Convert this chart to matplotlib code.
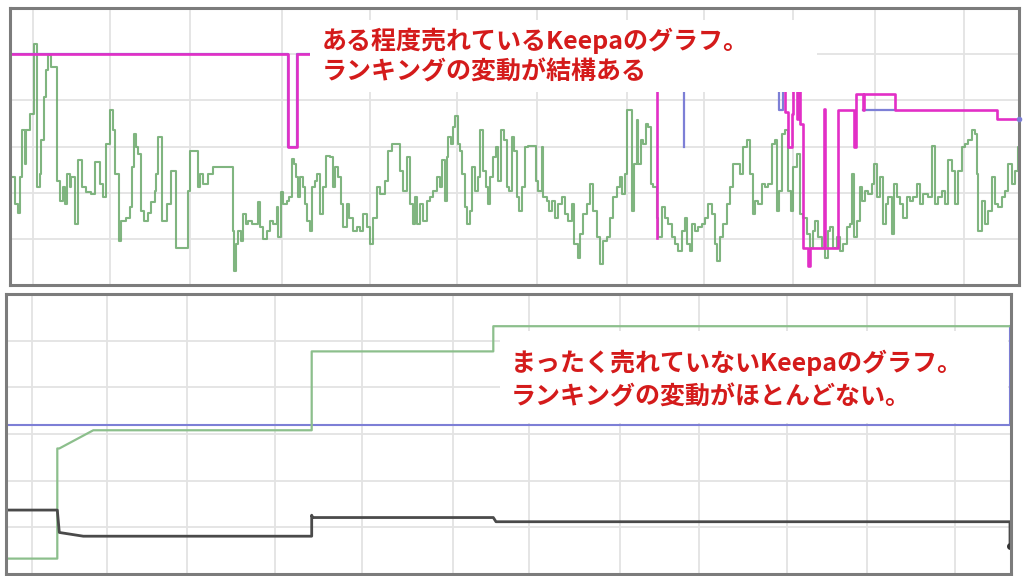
import numpy as np
import matplotlib.pyplot as plt
from matplotlib.patches import Rectangle

plt.rcParams['font.family'] = ['Noto Sans CJK JP', 'DejaVu Sans']

nan = np.nan

# ---- upper chart: item that sells reasonably well ----
# sales rank (green), time in steps, rank in grid units (top = best)
rank_t = [0, 4.7, 8, 9.7, 12, 14.7, 16.3, 19.7, 24, 27.3, 29.7, 31.3, 34, 36.3, 38, 41.3, 47.3, 49.7, 53, 54.7,
          57.3, 59.7, 61.3, 64.7, 68, 72, 76.3, 81.3, 85.3, 89.7, 93, 96.3, 99.7, 103, 105.3, 108.7, 111.3, 116.3,
          119.7, 122, 124, 126.3, 128, 131.3, 134, 138, 141.3, 144.7, 146.3, 148, 152, 157.3, 161.3, 166.3, 178,
          179.7, 188, 189.7, 193, 198,
          203.3, 222.7, 224, 226, 228.3, 230.7, 233.3, 236, 238.3, 241.7, 248.3, 250, 252.7, 256.7, 260, 263.3,
          266.7, 268.3, 270.7, 273.3, 276.7, 279.3, 281.7, 284, 286, 288.3, 290, 292.7, 295, 296.7, 300, 301.7,
          305, 307.3, 310, 313.3, 316, 320, 322.7, 325, 328.3, 330.7, 333.3, 336.7, 339.3, 343.3, 346.7, 350,
          353.3, 356.7, 360, 363.3, 366.7, 370, 375, 378.3, 381.7, 390, 393.3, 396.7, 400, 403.3,
          405, 406.7, 410, 413.3, 416.7, 420, 423.3, 426.7, 430, 431.7, 435, 436.7, 438.3, 441, 443.3, 445, 447.7,
          450, 451.7, 455, 456.7, 460, 462.3, 465, 468.3, 470, 473.3, 475.7, 478.3, 480, 483.3, 485.7, 488.3, 491,
          494.3, 496.7, 499, 501.7, 504.3, 506.7, 509, 511.7, 515, 518.3, 525.7, 528.3, 531.7, 533.3, 536.7, 539,
          541.7, 545, 548.3, 551.7, 555, 558.3, 561.7, 564.3, 567.7, 570, 573.3, 576.7, 580, 583.3, 586.7, 590,
          593.3, 596.7, 600, 603.3, 606.7,
          610, 611.7, 615, 617.3, 621.7, 624, 626.7, 628.3, 630.7, 633.3, 636, 638.3, 640.7, 643.3, 646.7, 648.3,
          651.7, 655, 658.3, 661.7, 665, 668.3, 671.7, 675, 676.7, 680, 681.7, 685, 688.3, 691.7, 695, 698.3,
          701.7, 705, 706.7, 710, 713.3, 716.7, 720, 723.3, 726.7, 730, 733.3, 736.7, 740, 742.7, 745, 748.3,
          751.7, 755, 758.3, 761.7, 765, 766.7, 769.3, 771.7, 775, 778.3, 780.7, 783.3, 786.7, 790, 793.3, 796.7,
          800, 803.3,
          805, 808.3, 811.7, 815, 818.3, 820, 823.3, 826.7, 830, 833.3, 836.7, 840, 842.3, 844.3, 846.7, 850,
          851.7, 855, 858.3, 861.7, 864.3, 866.7, 870, 873.3, 875.7, 878.3, 881.7, 884.3, 886.7, 890, 893.3,
          896.7, 900, 903.3, 906.7, 910, 913.3, 918.3, 921.7, 925, 928.3, 931.7, 935, 938.3, 941.7, 945, 948.3,
          951.7, 955, 958.3, 961.7, 965, 966.7, 968.3, 971.7, 975, 978.3, 981.7, 985, 988.3, 991.7, 995, 998.3,
          1001.7, 1005, 1008.3, 1009]
rank_v = [3.67, 4.25, 4.43, 3.67, 2.65, 3.38, 2.65, 2.29, 0.77, 3.88, 3.59, 2.87, 1.93, 1.35, 1.02, 1.28, 3.74, 4.17,
          3.88, 4.25, 3.59, 3.88, 3.67, 4.68, 3.30, 3.88, 3.99, 4.03, 3.34, 3.81, 4.10, 2.94, 2.22, 2.65, 3.59,
          5.04, 4.61, 4.54, 4.32, 3.45, 2.72, 3.01, 3.16, 4.39, 4.61, 4.43, 4.21, 3.96, 3.59, 2.80, 4.61, 4.25,
          3.52, 5.19, 3.96, 3.09, 3.88, 3.59, 3.81, 3.59,
          3.45, 4.83, 5.70, 5.12, 4.83, 5.04, 4.46, 4.68, 4.61, 4.68, 4.21, 4.75, 5.01, 4.83, 4.61, 4.68, 4.32,
          4.97, 3.99, 4.25, 4.17, 4.10, 3.27, 3.38, 3.67, 4.10, 3.67, 3.88, 4.25, 4.61, 4.83, 3.88, 3.74, 3.59,
          4.46, 3.88, 3.20, 3.23, 3.88, 3.45, 3.67, 4.25, 4.75, 4.25, 4.54, 4.83, 4.75, 4.83, 4.46, 4.75, 5.12,
          4.54, 3.88, 4.03, 3.74, 3.09, 2.94, 3.52, 3.96, 3.23, 4.25, 4.68,
          4.10, 4.68, 4.25, 4.61, 4.17, 4.10, 3.96, 3.67, 3.88, 3.30, 4.17, 3.23, 2.80, 2.94, 2.58, 2.33, 2.94,
          3.09, 3.59, 4.32, 4.68, 4.39, 3.45, 3.96, 3.67, 2.65, 3.52, 3.88, 4.25, 3.67, 3.23, 3.01, 3.74, 2.65,
          2.87, 3.88, 3.96, 2.80, 3.09, 4.10, 4.39, 3.88, 3.01, 2.98, 3.74, 3.96, 3.01, 4.10, 4.17, 4.39, 4.17,
          4.54, 4.25, 4.10, 4.46, 4.61, 4.25, 5.12, 5.41, 4.90, 4.46, 4.25, 3.81, 4.39, 4.97, 5.55, 5.04, 4.97,
          4.54, 4.10, 3.88,
          3.67, 4.03, 3.59, 2.22, 4.39, 3.38, 2.43, 3.38, 2.87, 2.94, 2.51, 2.58, 3.81, 3.88, 4.54, 4.97, 4.32,
          4.54, 4.68, 4.97, 5.12, 5.26, 4.83, 4.54, 5.12, 5.26, 4.68, 4.83, 4.75, 4.68, 4.54, 4.25, 4.46, 5.12,
          5.48, 4.97, 4.68, 4.25, 3.88, 3.38, 3.38, 3.59, 3.01, 2.87, 3.59, 4.46, 4.17, 4.25, 3.81, 3.88, 3.81,
          2.94, 2.87, 4.39, 3.96, 2.72, 2.65, 3.96, 4.39, 3.45, 3.16, 4.46, 4.54, 4.90, 5.19, 4.83,
          4.61, 4.97, 5.19, 5.41, 4.83, 4.75, 5.19, 4.97, 5.26, 5.12, 4.75, 4.68, 3.59, 4.97, 4.61, 3.88, 4.17,
          3.96, 4.03, 3.81, 3.38, 4.10, 3.67, 4.68, 4.25, 4.10, 4.90, 3.81, 4.10, 4.25, 4.54, 4.10, 4.17, 4.10,
          3.81, 4.25, 4.03, 4.10, 2.98, 4.25, 4.10, 3.96, 4.25, 3.30, 3.52, 4.25, 3.52, 3.01, 2.94, 2.87, 2.65,
          2.72, 3.59, 4.83, 4.17, 4.68, 4.39, 3.67, 4.25, 4.32, 4.10, 3.96, 3.38, 3.81, 3.52, 3.01, 3.01]

# Amazon price (magenta), nan = no offer
amz_t = [0, 278.3, 287.3, 301.7, nan,
         646.7, 646.7, nan,
         775, 775, 778, 781.5, 783.3, 786.7, 788, 790, 792.7, 798.3, 799.5, 814, 815, 828.3, 844.3, 845.5,
         852.7, 853.5, 885, 986.7, 1009]
amz_v = [1.0, 3.0, 1.0, 1.0, nan,
         1.0, 4.98, nan,
         1.0, 2.25, 3.01, 2.3, 1.0, 2.4, 1.0, 2.51, 5.19, 5.59, 5.19, 2.18, 5.19, 2.2, 3.01, 1.86,
         2.2, 1.86, 2.2, 2.4, 2.4]

# new price (blue)
new_t = [0, 278.3, 287.3, 301.7, nan, 674.3, 674.3, nan, 769.3, 769.3, 773.3, nan, 852.7, 885]
new_v = [1.0, 3.0, 1.0, 1.0, nan, 1.0, 3.01, nan, 1.0, 2.2, 1.0, nan, 2.2, 2.2]
new_last = (1009, 2.4)

top_grid_x = [23, 100, 180, 272, 360, 447, 527, 617, 694, 783, 865, 954]

# ---- lower chart: item that hardly sells ----
low_rank_t = [0, 51.3, 51.3, 53.3, 87.3, 305.7, 305.7, 487.3, 487.3, 1004]
low_rank_v = [5.67, 5.67, 3.31, 3.31, 2.92, 2.92, 1.23, 1.23, 0.69, 0.69]
low_new_t = [0, 1004, 1004]
low_new_v = [2.80, 2.80, 0.69]
low_used_t = [0, 51.3, 53.3, 77.3, 305.7, 305.7, 306.5, 487.3, 490, 1004, 1004]
low_used_v = [4.63, 4.63, 5.11, 5.19, 5.19, 4.74, 4.79, 4.79, 4.88, 4.88, 5.41]

low_grid_x = [25.7, 100.7, 180.7, 269, 355.7, 447.3, 522.7, 614.3, 692.7, 781, 861, 949.3]

top_text = ['ある程度売れているKeepaのグラフ。', 'ランキングの変動が結構ある']
low_text = ['まったく売れていないKeepaのグラフ。', 'ランキングの変動がほとんどない。']

green = '#6aa86a'
magenta = '#e22fc6'
blue = '#7d7fd6'
red = '#d41b1b'

fig = plt.figure(figsize=(10.24, 5.76), dpi=100)

def style_axes(ax, gx):
    ax.set_xticks(gx)
    ax.set_yticks([1, 2, 3, 4, 5])
    ax.grid(True, color='#e3e3e3', lw=1.3)
    ax.set_axisbelow(True)
    ax.tick_params(length=0, labelleft=False, labelbottom=False)
    for sp in ax.spines.values():
        sp.set_color('#7c7c7c')
        sp.set_linewidth(2.2)

ax1 = fig.add_axes([10/1024, 1-285/576, 1009/1024, 277/576])
style_axes(ax1, top_grid_x)
ax1.set_xlim(0, 1009)
ax1.set_ylim(6.0, 0)

ax1.plot(rank_t, rank_v, drawstyle='steps-post', color=green, lw=1.5, alpha=0.85, zorder=2)
ax1.plot(new_t, new_v, drawstyle='steps-post', color=blue, lw=1.6, zorder=2)
ax1.plot(amz_t, amz_v, drawstyle='steps-post', color=magenta, lw=1.9, zorder=2.5)
ax1.plot([new_last[0]], [new_last[1]], 'o', color=blue, ms=3, zorder=2.6, clip_on=False)

ax1.add_patch(Rectangle((300, 0.26), 507, 1.56, facecolor='white', edgecolor='none', zorder=3))
ax1.text(312, 0.71, top_text[0], color=red, fontsize=18, fontweight='bold', va='center', zorder=4)
ax1.text(312, 1.39, top_text[1], color=red, fontsize=18, fontweight='bold', va='center', zorder=4)

ax2 = fig.add_axes([6/1024, 1-574/576, 1005/1024, 280/576])
style_axes(ax2, low_grid_x)
ax2.set_xlim(0, 1005)
ax2.set_ylim(6.0, 0)

ax2.plot(low_new_t, low_new_v, color=blue, lw=1.5, zorder=2)
ax2.plot(low_rank_t, low_rank_v, color='#8cbf8c', lw=1.6, zorder=2.2)
ax2.plot(low_used_t, low_used_v, color='#4a4a4a', lw=2.0, zorder=2.3)
ax2.plot([low_used_t[-1]], [low_used_v[-1]], 'o', color='#333333', ms=4, zorder=2.4)

ax2.add_patch(Rectangle((494, 0.79), 508, 1.98, facecolor='white', edgecolor='none', zorder=3))
ax2.text(505, 1.48, low_text[0], color=red, fontsize=18, fontweight='bold', va='center', zorder=4)
ax2.text(505, 2.21, low_text[1], color=red, fontsize=18, fontweight='bold', va='center', zorder=4)

plt.savefig('out.png', dpi=100)
